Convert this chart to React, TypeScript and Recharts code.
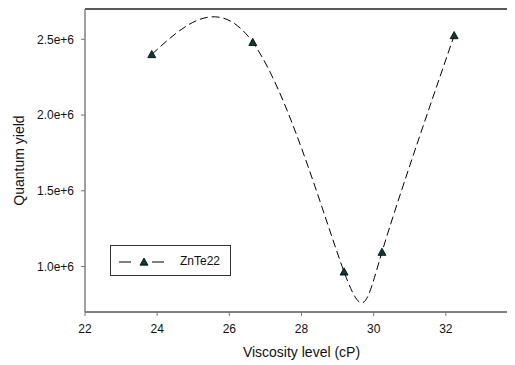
import { LineChart, Line, XAxis, YAxis, Legend, ReferenceLine } from 'recharts';

const viscosity = [23.85, 26.65, 29.18, 30.23, 32.23];
const quantumYield = [2.4e6, 2.48e6, 0.965e6, 1.095e6, 2.525e6];
const xTicks = [22, 24, 26, 28, 30, 32, 34];
const yTicks = [1.0e6, 1.5e6, 2.0e6, 2.5e6];
const seriesName = 'ZnTe22';

const data = viscosity.map((v, i) => ({ x: v, y: quantumYield[i] }));

const FONT = '"Liberation Sans", Arial, sans-serif';
const MARKER_FILL = '#0c3a3a';

// Triangle marker
function TriangleDot(props: any) {
  const { cx, cy } = props;
  if (cx == null || cy == null) return null;
  const s = 4;
  return (
    <polygon
      points={`${cx},${cy - s} ${cx - s},${cy + s * 0.8} ${cx + s},${cy + s * 0.8}`}
      fill={MARKER_FILL}
      stroke="#000"
      strokeWidth={0.8}
    />
  );
}

function LegendBox() {
  return (
    <div
      style={{
        width: 121,
        height: 31,
        boxSizing: 'border-box',
        border: '1px solid #333',
        background: '#fff',
        position: 'relative',
        fontFamily: FONT,
        fontSize: 12,
        color: '#111',
      }}
    >
      <svg width={60} height={29} style={{ position: 'absolute', left: 0, top: 0 }}>
        <line x1={8} y1={16} x2={54} y2={16} stroke="#000" strokeWidth={1} strokeDasharray="12 21" />
        <TriangleDot cx={33} cy={16} />
      </svg>
      <span style={{ position: 'absolute', left: 69, top: 8 }}>{seriesName}</span>
    </div>
  );
}

export default function App() {
  return (
    <div style={{ width: 507, height: 357, overflow: 'hidden', fontFamily: FONT }}>
      <LineChart
        width={520}
        height={357}
        data={data}
        margin={{ top: 1, right: 10, left: 0, bottom: 0 }}
      >
        <XAxis
          dataKey="x"
          type="number"
          domain={[22, 34]}
          ticks={xTicks}
          allowDataOverflow
          height={53}
          axisLine={{ stroke: '#000', strokeWidth: 1 }}
          tickLine={{ stroke: '#777' }}
          tickSize={4}
          tickMargin={8}
          tick={{ fill: '#111', fontSize: 12, fontFamily: FONT }}
          label={{
            value: 'Viscosity level (cP)',
            position: 'insideBottom',
            offset: 8,
            fill: '#111',
            fontSize: 14,
            fontFamily: FONT,
          }}
        />
        <YAxis
          dataKey="y"
          type="number"
          domain={[0.7e6, 2.7e6]}
          ticks={yTicks}
          allowDataOverflow
          width={77}
          axisLine={{ stroke: '#808080', strokeWidth: 1.5 }}
          tickLine={{ stroke: '#777' }}
          tickSize={4}
          tickMargin={7}
          tickFormatter={(v: number) => `${(v / 1e6).toFixed(1)}e+6`}
          tick={{ fill: '#111', fontSize: 12, fontFamily: FONT }}
          label={{
            value: 'Quantum yield',
            angle: -90,
            position: 'insideLeft',
            offset: 11,
            fill: '#111',
            fontSize: 14,
            fontFamily: FONT,
            style: { textAnchor: 'middle' },
          }}
        />
        <ReferenceLine y={2.7e6} stroke="#222" strokeWidth={1.5} />
        <Legend
          layout="vertical"
          align="center"
          verticalAlign="middle"
          content={() => <LegendBox />}
          wrapperStyle={{ left: 102, top: 237, width: 121, height: 31 }}
        />
        <Line
          type="natural"
          dataKey="y"
          name={seriesName}
          stroke="#000"
          strokeWidth={1}
          strokeDasharray="8 4"
          dot={<TriangleDot />}
          activeDot={false}
          isAnimationActive={false}
        />
      </LineChart>
    </div>
  );
}
